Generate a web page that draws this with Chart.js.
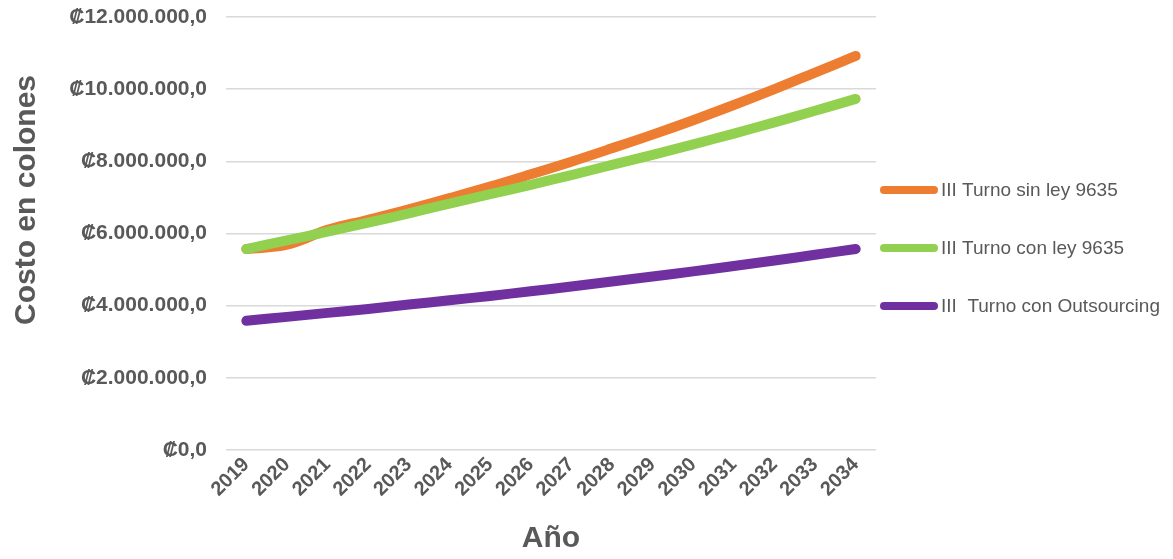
<!DOCTYPE html>
<html>
<head>
<meta charset="utf-8">
<script src="https://cdn.jsdelivr.net/npm/chart.js@4.4.1/dist/chart.umd.min.js"></script>
<style>
  html, body { margin: 0; padding: 0; background: #fff; }
  #wrap { width: 1173px; height: 559px; position: relative; }
</style>
</head>
<body>
<div id="wrap"><canvas id="costo-line-chart"></canvas></div>
<script>
// proyección anual de costos (colones)
const years = ["2019", "2020", "2021", "2022", "2023", "2024", "2025", "2026",
               "2027", "2028", "2029", "2030", "2031", "2032", "2033", "2034"];
const sinLey = [5570000, 5690000, 6100000, 6380000, 6670000, 6980000, 7300000, 7640000,
                7990000, 8360000, 8740000, 9140000, 9560000, 10000000, 10460000, 10920000];
const conLey = [5570000, 5810000, 6050000, 6300000, 6560000, 6830000, 7090000, 7350000,
                7620000, 7900000, 8180000, 8470000, 8770000, 9080000, 9400000, 9730000];
const outsourcing = [3580000, 3690000, 3800000, 3910000, 4030000, 4150000, 4270000, 4400000,
                     4530000, 4670000, 4810000, 4950000, 5100000, 5250000, 5410000, 5570000];
const seriesNames = ["III Turno sin ley 9635", "III Turno con ley 9635", "III  Turno con Outsourcing"];
const seriesColors = ["#ED7D31", "#92D050", "#7030A0"];
const yMax = 12000000;
const yStep = 2000000;

const textGrey = "#595959";
Chart.defaults.font.family = "'Liberation Sans', Arial, sans-serif";
Chart.defaults.color = textGrey;

function colones(v) {
  const s = Math.round(v).toString().replace(/\B(?=(\d{3})+(?!\d))/g, ".");
  return "\u20A1" + s + ",0";
}

// leyenda a la derecha y título vertical del eje Y
const sideLegend = {
  id: "sideLegend",
  afterDraw(chart) {
    const { ctx, chartArea } = chart;
    ctx.save();
    ctx.fillStyle = textGrey;
    ctx.font = "bold 30px 'Liberation Sans', Arial, sans-serif";
    ctx.textAlign = "center";
    ctx.textBaseline = "middle";
    ctx.translate(27, 200);
    ctx.rotate(-Math.PI / 2);
    ctx.fillText("Costo en colones", 0, 0);
    ctx.restore();

    ctx.save();
    ctx.font = "19px 'Liberation Sans', Arial, sans-serif";
    ctx.textBaseline = "middle";
    ctx.textAlign = "left";
    chart.data.datasets.forEach((ds, i) => {
      const y = 190 + i * 58;
      const x0 = chartArea.right + 8;
      ctx.strokeStyle = ds.borderColor;
      ctx.lineWidth = 8;
      ctx.lineCap = "round";
      ctx.beginPath();
      ctx.moveTo(x0, y);
      ctx.lineTo(x0 + 50, y);
      ctx.stroke();
      ctx.fillStyle = textGrey;
      ctx.fillText(ds.label, x0 + 57, y + 1);
    });
    ctx.restore();
  }
};

const series = [sinLey, conLey, outsourcing];
const datasets = series.map((values, i) => ({
  label: seriesNames[i],
  data: values,
  borderColor: seriesColors[i],
  backgroundColor: seriesColors[i],
  borderWidth: 10,
  borderCapStyle: "round",
  borderJoinStyle: "round",
  pointRadius: 0,
  tension: 0.4,
  order: [2, 1, 0][i]
}));

var config = {
  type: "line",
  data: { labels: years, datasets: datasets },
  options: {
    responsive: false,
    animation: false,
    layout: { padding: { top: 17, right: 297, bottom: 0, left: 0 } },
    plugins: { legend: { display: false }, tooltip: { enabled: false } },
    scales: {
      x: {
        offset: true,
        grid: { display: false },
        border: { display: false },
        ticks: {
          maxRotation: 45,
          minRotation: 45,
          padding: -5,
          color: textGrey,
          font: { size: 20, weight: "bold" }
        },
        title: {
          display: true,
          text: "A\u00f1o",
          color: textGrey,
          font: { size: 30, weight: "bold" },
          padding: { top: 0, bottom: 2 }
        },
        afterFit: (scale) => { scale.height = 109; }
      },
      y: {
        min: 0,
        max: yMax,
        grid: {
          color: "#D9D9D9",
          lineWidth: 1.5,
          drawTicks: true,
          tickLength: 19,
          tickColor: "rgba(0,0,0,0)"
        },
        border: { display: false },
        ticks: {
          stepSize: yStep,
          padding: 0,
          color: textGrey,
          font: { size: 21, weight: "bold" },
          callback: (v) => colones(v)
        },
        afterFit: (scale) => { scale.width = 226; }
      }
    }
  },
  plugins: [sideLegend]
};

const canvas = document.getElementById("costo-line-chart");
canvas.width = 1173;
canvas.height = 559;
window.costoChart = new Chart(canvas.getContext("2d"), config);
</script>
</body>
</html>
